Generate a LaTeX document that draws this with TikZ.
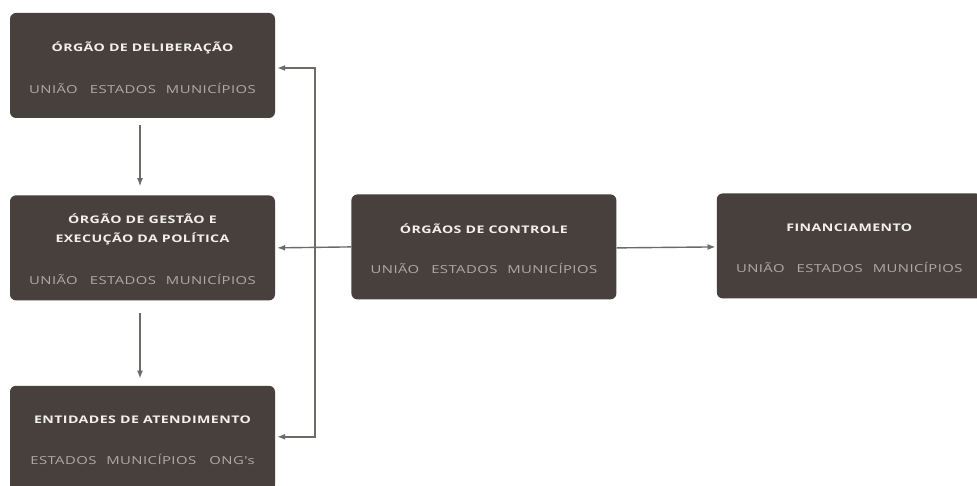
\documentclass[tikz,border=0pt]{standalone}
\usepackage{fontspec}
\setmainfont{Open Sans}
\newfontfamily\widefont[FakeStretch=1.35, LetterSpace=4]{Open Sans}
\usepackage{xcolor}
\usetikzlibrary{arrows.meta,positioning,calc}

\definecolor{boxfill}{HTML}{48403D}
\definecolor{titletext}{HTML}{F2F0EE}
\definecolor{subtext}{HTML}{B0AAA6}
\definecolor{linegray}{HTML}{6E6A68}

\begin{document}
\begin{tikzpicture}[
    x=1pt, y=1pt,
    node distance=77pt and 76pt,
    box/.style={fill=boxfill, rounded corners=6pt, minimum width=265pt, minimum height=105pt, inner sep=0pt},
    ttl/.style={text=titletext, font=\widefont\fontsize{10.5}{18.5}\selectfont\bfseries, align=center, inner sep=0pt},
    sub/.style={text=subtext, font=\widefont\fontsize{11}{13}\selectfont, inner sep=0pt},
    arrow/.style={-{Latex[length=8pt, width=6pt]}, draw=linegray, line width=1.4pt},
]
\clip (0,0) rectangle (977,-486);
\fill[white] (0,0) rectangle (977,-486);

% left column
\node[box] (delib) at (142.5,-65.5) {};
\node[box, below=77pt of delib] (gestao) {};
\node[box, below=85pt of gestao] (entid) {};

\node[ttl] (delib_t) at ([yshift=17.5pt]delib.center) {ÓRGÃO DE DELIBERAÇÃO};
\node[sub] (delib_s) at ([yshift=-22.5pt]delib.center) {UNIÃO\hspace{1.1em}ESTADOS\hspace{0.9em}MUNICÍPIOS};

\node[ttl] (gestao_t) at ([yshift=18.5pt]gestao.center) {ÓRGÃO DE GESTÃO E\\EXECUÇÃO DA POLÍTICA};
\node[sub] (gestao_s) at ([yshift=-31.5pt]gestao.center) {UNIÃO\hspace{1.1em}ESTADOS\hspace{0.9em}MUNICÍPIOS};

\node[ttl] (entid_t) at ([yshift=18.5pt]entid.center) {ENTIDADES DE ATENDIMENTO};
\node[sub] (entid_s) at ([yshift=-21.5pt]entid.center) {ESTADOS\hspace{0.9em}MUNICÍPIOS\hspace{1.2em}ONG's};

% controle and financiamento
\node[box, right=76pt of gestao, yshift=1pt] (controle) {};
\node[box, right=100pt of controle, yshift=1pt] (financ) {};

\node[ttl] (controle_t) at ([yshift=18.5pt]controle.center) {ÓRGÃOS DE CONTROLE};
\node[sub] (controle_s) at ([yshift=-21.5pt]controle.center) {UNIÃO\hspace{1.1em}ESTADOS\hspace{0.9em}MUNICÍPIOS};

\node[ttl] (financ_t) at ([yshift=18.5pt]financ.center) {FINANCIAMENTO};
\node[sub] (financ_s) at ([yshift=-21.5pt]financ.center) {UNIÃO\hspace{1.1em}ESTADOS\hspace{0.9em}MUNICÍPIOS};

% connectors
\coordinate (bus) at (315,0);
\draw[arrow, shorten <=7pt, shorten >=9pt] ([xshift=-2.5pt]delib.south) -- ([xshift=-2.5pt]gestao.north);
\draw[arrow, shorten <=12pt, shorten >=7pt] ([xshift=-2.5pt]gestao.south) -- ([xshift=-2.5pt]entid.north);
\draw[arrow, shorten >=2pt] (controle.west) -- (gestao.east);
\draw[arrow, shorten >=2pt] ([yshift=-1pt]controle.west -| bus) |- ([yshift=-2.5pt]delib.east);
\draw[arrow, shorten >=2pt] ([yshift=1pt]controle.west -| bus) |- ([yshift=1.5pt]entid.east);
\draw[arrow, shorten >=1pt] ([yshift=-1pt]controle.east) -- ([yshift=0pt]financ.west |- controle.east);

\end{tikzpicture}
\end{document}
